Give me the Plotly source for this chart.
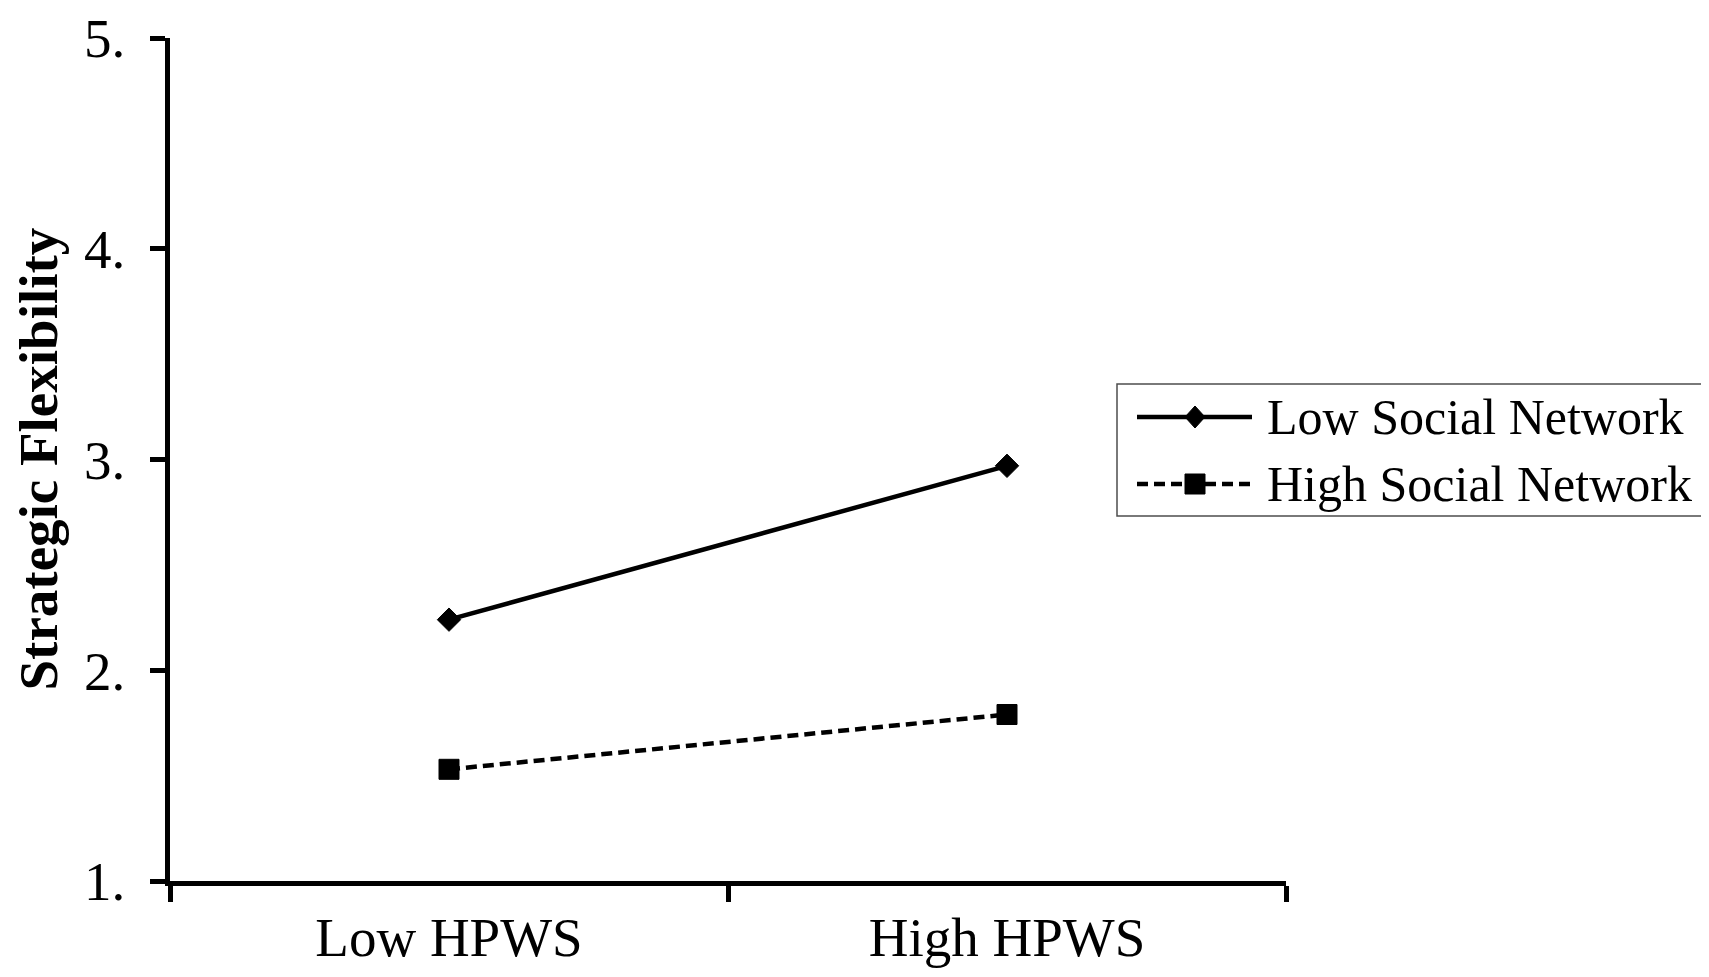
import plotly.graph_objects as go

categories = ["Low HPWS", "High HPWS"]
low_social = [2.24, 2.97]
high_social = [1.53, 1.79]
y_ticks = [1, 2, 3, 4, 5]
y_tick_labels = ["1.", "2.", "3.", "4.", "5."]
series_names = ["Low Social Network", "High Social Network"]
y_title = "Strategic Flexibility"

FONT = "Liberation Serif, Times New Roman, serif"
W, H = 1709, 977
ML, MR, MT, MB = 162, 431, 30, 104
PW, PH = W - ML - MR, H - MT - MB


def px2x(px):
    return (px - ML) / PW


def px2y(py):
    return (H - MB - py) / PH


fig = go.Figure()
fig.add_trace(go.Scatter(
    x=categories, y=low_social, name=series_names[0], mode="lines+markers",
    line=dict(color="black", width=4.5),
    marker=dict(symbol="diamond", size=18, color="black",
                line=dict(color="black", width=1)),
))
fig.add_trace(go.Scatter(
    x=categories, y=high_social, name=series_names[1], mode="lines+markers",
    line=dict(color="black", width=4.5, dash="11px,6px"),
    marker=dict(symbol="square", size=20, color="black",
                line=dict(color="black", width=1)),
))

fig.update_layout(
    width=W, height=H,
    paper_bgcolor="white", plot_bgcolor="white",
    margin=dict(l=ML, r=MR, t=MT, b=MB, autoexpand=False),
    font=dict(family=FONT, size=55, color="black"),
    showlegend=False,
)
fig.update_xaxes(
    type="category", range=[-0.5, 1.5], tickson="boundaries",
    ticks="outside", ticklen=16, tickwidth=4.5, tickcolor="black",
    showline=True, linewidth=4.5, linecolor="black",
    showgrid=False, zeroline=False, ticklabelstandoff=4,
    tickfont=dict(family=FONT, size=55, color="black"),
)
fig.update_yaxes(
    range=[1, 5], tickvals=y_ticks, ticktext=y_tick_labels,
    ticks="outside", ticklen=15, tickwidth=4.5, tickcolor="black",
    showline=True, linewidth=4.5, linecolor="black",
    showgrid=False, zeroline=False, ticklabelstandoff=14,
    tickfont=dict(family=FONT, size=55, color="black"),
)
fig.add_annotation(
    text="<b>" + y_title + "</b>", xref="paper", yref="paper",
    x=px2x(30), y=0.5, xanchor="center", yanchor="middle",
    textangle=-90, showarrow=False,
    font=dict(family=FONT, size=55, color="black"),
)

# Custom legend (box, line samples, glyphs, labels)
box = dict(x0=1109, x1=1701, y0=376, y1=508)
fig.add_shape(type="rect", xref="paper", yref="paper",
              x0=px2x(box["x0"]), x1=px2x(box["x1"]),
              y0=px2y(box["y1"]), y1=px2y(box["y0"]),
              line=dict(color="#4d4d4d", width=1.5), fillcolor="white", layer="above")
rows = [409, 476]
dashes = ["solid", "11px,6px"]
sx0, sx1, mx, tx = 1129, 1244, 1187, 1257
for i, ry in enumerate(rows):
    fig.add_shape(type="line", xref="paper", yref="paper",
                  x0=px2x(sx0), x1=px2x(sx1), y0=px2y(ry), y1=px2y(ry),
                  line=dict(color="black", width=4.5, dash=dashes[i]), layer="above")
    if i == 0:
        path = "M {} {} L {} {} L {} {} L {} {} Z".format(
            px2x(mx - 10), px2y(ry), px2x(mx), px2y(ry - 11),
            px2x(mx + 10), px2y(ry), px2x(mx), px2y(ry + 11))
    else:
        path = "M {} {} L {} {} L {} {} L {} {} Z".format(
            px2x(mx - 10), px2y(ry - 10), px2x(mx + 10), px2y(ry - 10),
            px2x(mx + 10), px2y(ry + 10), px2x(mx - 10), px2y(ry + 10))
    fig.add_shape(type="path", xref="paper", yref="paper", path=path,
                  fillcolor="black", line=dict(color="black", width=1), layer="above")
    fig.add_annotation(
        text=series_names[i], xref="paper", yref="paper",
        x=px2x(tx), y=px2y(ry), xanchor="left", yanchor="middle",
        showarrow=False, font=dict(family=FONT, size=50, color="black"),
    )

fig.write_html("out.html")
